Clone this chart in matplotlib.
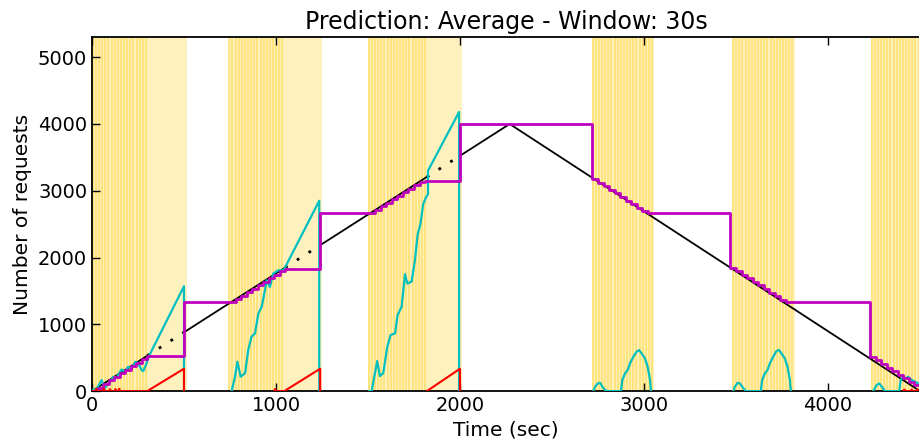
import matplotlib
matplotlib.use('Agg')
import matplotlib.pyplot as plt
import numpy as np

titulo = 'Prediction: Average - Window: 30s'
eixox = 'Time (sec)'
eixoy = 'Number of requests'

# carga real (preto)
carga_t = [0, 2270, 4500]
carga_v = [0, 4000, 0]
trechos_pontilhados = [(300, 500), (1050, 1240), (1820, 2000)]

# janelas de monitoramento (amarelo)
janelas = [(0, 518), (742, 1252), (1500, 2012), (2717, 3055), (3480, 3819), (4233, 4500)]
janelas_listradas = [(0, 300), (742, 1047), (1500, 1820), (2717, 3055), (3480, 3819), (4233, 4500)]

# predicao (magenta, degraus)
pred_t = [0, 30, 60, 90, 120, 150, 180, 210, 240, 270, 300, 500,
          750, 780, 810, 840, 870, 900, 930, 960, 990, 1020, 1050, 1240,
          1510, 1540, 1570, 1600, 1630, 1660, 1690, 1720, 1750, 1780, 1810, 2000,
          2720, 2750, 2780, 2810, 2840, 2870, 2900, 2930, 2960, 2990, 3020,
          3470, 3500, 3530, 3560, 3590, 3620, 3650, 3680, 3710, 3740, 3770,
          4230, 4260, 4290, 4320, 4350, 4380, 4410, 4440, 4470, 4500]
pred_v = [0, 50, 105, 160, 210, 265, 315, 370, 420, 475, 530, 1330,
          1330, 1375, 1425, 1480, 1530, 1585, 1640, 1690, 1745, 1795, 1830, 2660,
          2660, 2710, 2765, 2815, 2870, 2920, 2975, 3025, 3080, 3130, 3150, 4000,
          3170, 3120, 3065, 3010, 2960, 2905, 2850, 2800, 2745, 2690, 2660,
          1850, 1800, 1745, 1690, 1635, 1585, 1530, 1475, 1420, 1370, 1330,
          510, 460, 405, 350, 300, 245, 190, 140, 85, 40]

# medido (ciano), um trecho por janela
ciano1_t = [0, 25, 52, 70, 98, 116, 134, 161, 179, 197, 215, 236, 252, 270, 279, 293, 306, 315, 500, 500]
ciano1_v = [15, 30, 165, 45, 140, 215, 205, 325, 290, 365, 340, 440, 415, 315, 300, 390, 490, 555, 1570, 0]
ciano2_t = [759, 777, 790, 808, 832, 849, 867, 886, 904, 922, 940, 949, 967, 985, 1013, 1040, 1047, 1235, 1235]
ciano2_v = [0, 215, 440, 215, 270, 615, 815, 865, 1160, 1260, 1510, 1660, 1560, 1760, 1810, 1810, 1840, 2850, 0]
ciano3_t = [1505, 1520, 1550, 1565, 1583, 1605, 1623, 1647, 1661, 1683, 1701, 1714, 1737, 1755,
            1770, 1785, 1800, 1815, 1826, 1826, 1995, 1995]
ciano3_v = [0, 0, 450, 225, 270, 665, 840, 865, 1140, 1265, 1750, 1610, 1640, 1960,
            2350, 2500, 2800, 2900, 2950, 3300, 4180, 0]
ciano4_t = [2725, 2734, 2749, 2761, 2774, 2788, 2797, 2875, 2882, 2897, 2911, 2924, 2942,
            2960, 2973, 2987, 3005, 3020, 3033, 3038]
ciano4_v = [0, 65, 115, 125, 65, 15, 0, 0, 165, 265, 315, 415, 515, 590, 615, 565, 490, 365, 165, 0]
ciano5_t = [3485, 3494, 3509, 3521, 3534, 3548, 3557, 3635, 3642, 3657, 3671, 3684, 3702,
            3720, 3733, 3747, 3765, 3780, 3793, 3798]
ciano5_v = [0, 65, 125, 115, 65, 15, 0, 0, 165, 265, 315, 415, 515, 600, 615, 565, 490, 365, 165, 0]
ciano6_t = [4246, 4264, 4279, 4292, 4310, 4387, 4395, 4409, 4424, 4436, 4455, 4473, 4491, 4500]
ciano6_v = [0, 90, 115, 65, 0, 0, 165, 215, 190, 215, 165, 140, 115, 100]

# erro (vermelho)
verm1_t = [0, 20, 25, 30, 60, 65, 70, 95, 98, 102, 125, 128, 132, 145, 148, 152, 300, 500, 500]
verm1_v = [0, 0, 35, 0, 0, 40, 0, 0, 30, 0, 0, 30, 0, 0, 35, 0, 0, 335, 0]
verm2_t = [990, 995, 1000, 1045, 1240, 1240]
verm2_v = [0, 30, 0, 0, 335, 0]
verm3_t = [1820, 2000, 2000]
verm3_v = [0, 335, 0]
verm6_t = [4410, 4415, 4420, 4450, 4455, 4460, 4480, 4485, 4490]
verm6_v = [0, 25, 0, 0, 25, 0, 0, 25, 0]

amarelo_claro = '#fff1bd'
amarelo_escuro = '#ffe272'
ciano = (0.0, 0.75, 0.75)
magenta = (0.75, 0.0, 0.75)

fig = plt.figure(figsize=(9.2, 4.48), dpi=100)
ax = fig.add_axes([0.1, 0.127, 0.9, 0.79])

for a, b in janelas:
    ax.axvspan(a, b, color=amarelo_claro, lw=0, zorder=0)
for a, b in janelas_listradas:
    ax.vlines(np.arange(a + 4, b, 17), 0, 1, transform=ax.get_xaxis_transform(),
              color=amarelo_escuro, lw=1.2, zorder=0.5)

# linha preta: solida fora dos trechos pontilhados
cortes = sorted(set([carga_t[0], carga_t[-1]] + [x for par in trechos_pontilhados for x in par]))
for a, b in zip(cortes[:-1], cortes[1:]):
    xs = [a] + [t for t in carga_t if a < t < b] + [b]
    ys = np.interp(xs, carga_t, carga_v)
    if (a, b) in trechos_pontilhados:
        ax.plot(xs, ys, color='k', lw=2, linestyle=(0, (1, 4)), zorder=2)
    else:
        ax.plot(xs, ys, color='k', lw=1.3, zorder=2)

for t, v in [(ciano1_t, ciano1_v), (ciano2_t, ciano2_v), (ciano3_t, ciano3_v),
             (ciano4_t, ciano4_v), (ciano5_t, ciano5_v), (ciano6_t, ciano6_v)]:
    ax.plot(t, v, color=ciano, lw=1.6, zorder=3)

ax.plot(pred_t, pred_v, color=magenta, lw=2, drawstyle='steps-post', zorder=4)

for t, v in [(verm1_t, verm1_v), (verm2_t, verm2_v), (verm3_t, verm3_v), (verm6_t, verm6_v)]:
    ax.plot(t, v, color='r', lw=1.5, zorder=5)

ax.set_xlim(0, 4500)
ax.set_ylim(0, 5300)
ax.set_xticks([0, 1000, 2000, 3000, 4000])
ax.set_yticks([0, 1000, 2000, 3000, 4000, 5000])
ax.tick_params(direction='in', top=True, right=False, length=6, width=1, labelsize=14)
for s in ax.spines.values():
    s.set_linewidth(1.3)
ax.spines['right'].set_visible(False)

ax.set_title(titulo, size=17)
ax.set_xlabel(eixox, size=14.5)
ax.set_ylabel(eixoy, size=14.5)

fig.savefig('out.png', dpi=100)
